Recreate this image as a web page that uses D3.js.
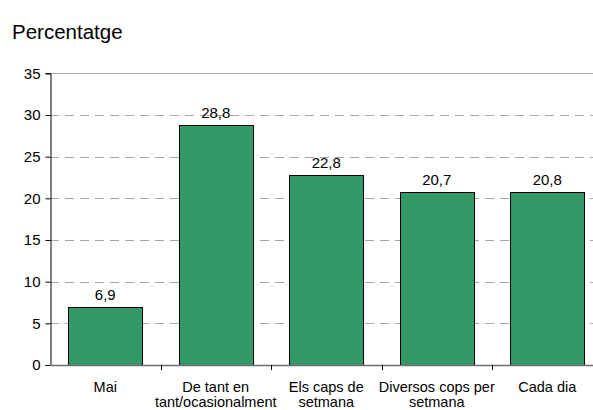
<!DOCTYPE html>
<html>
  <head>
    <script src="https://d3js.org/d3.v7.min.js"></script>
    <style>
      body { margin: 0; background: #fff; }
      text { font-family: "Liberation Sans", Arial, sans-serif; fill: #000; }
    </style>
  </head>
  <body>
    <script>
      // values
      var categories = [
        ["Mai"],
        ["De tant en", "tant/ocasionalment"],
        ["Els caps de", "setmana"],
        ["Diversos cops per", "setmana"],
        ["Cada dia"]
      ];
      var values = [6.9, 28.8, 22.8, 20.7, 20.8];
      var yTicks = [0, 5, 10, 15, 20, 25, 30, 35];

      var width = 593, height = 410;
      var plotLeft = 50, plotRight = 602.5, plotTop = 73.3, plotBottom = 365;

      var svg = d3.select("body").append("svg")
        .attr("width", width)
        .attr("height", height);

      var x = d3.scaleBand()
        .domain(d3.range(values.length))
        .range([plotLeft, plotRight])
        .paddingInner(0.33)
        .paddingOuter(0.165);
      var y = d3.scaleLinear()
        .domain([0, 35])
        .range([plotBottom, plotTop]);

      // title
      svg.append("text")
        .attr("x", 12)
        .attr("y", 39)
        .style("font-size", "20.5px")
        .text("Percentatge");

      // gridlines
      svg.append("g").selectAll("line")
        .data(yTicks.filter(function(d) { return d > 0; }))
        .enter().append("line")
        .attr("x1", plotLeft).attr("x2", width)
        .attr("y1", function(d) { return Math.round(y(d)) + 0.5; })
        .attr("y2", function(d) { return Math.round(y(d)) + 0.5; })
        .attr("stroke", "#a6a6a6")
        .attr("stroke-dasharray", function(d) { return d == 35 ? null : "9,6"; })
        .attr("stroke-width", 1);

      // bars
      svg.selectAll(".bar")
        .data(values)
        .enter().append("rect")
        .attr("class", "bar")
        .attr("x", function(d, i) { return Math.round(x(i)) + 0.5; })
        .attr("y", function(d) { return Math.round(y(d)) + 0.5; })
        .attr("width", x.bandwidth())
        .attr("height", function(d) { return Math.round(plotBottom) - Math.round(y(d)); })
        .attr("fill", "#339966")
        .attr("stroke", "#000")
        .attr("stroke-width", 1);

      // value labels
      svg.selectAll(".val")
        .data(values)
        .enter().append("text")
        .attr("class", "val")
        .attr("x", function(d, i) { return x(i) + x.bandwidth() / 2; })
        .attr("y", function(d) { return y(d) - 7; })
        .attr("text-anchor", "middle")
        .style("font-size", "15px")
        .text(function(d) { return String(d).replace(".", ","); });

      // y axis
      var yAxis = svg.append("g")
        .attr("transform", "translate(" + (plotLeft + 0.5) + ",0)")
        .call(d3.axisLeft(y).tickValues(yTicks).tickSize(5).tickPadding(5));
      yAxis.select(".domain").attr("stroke", "#000");
      yAxis.selectAll("text").style("font-size", "15px").attr("fill", "#000");

      // x axis
      svg.append("line")
        .attr("x1", plotLeft).attr("x2", width)
        .attr("y1", plotBottom + 0.5).attr("y2", plotBottom + 0.5)
        .attr("stroke", "#707070")
        .attr("stroke-width", 1.5);

      var step = x.step();
      svg.append("g").selectAll("line")
        .data(d3.range(1, values.length + 1))
        .enter().append("line")
        .attr("x1", function(i) { return Math.round(plotLeft + i * step) + 0.5; })
        .attr("x2", function(i) { return Math.round(plotLeft + i * step) + 0.5; })
        .attr("y1", plotBottom).attr("y2", plotBottom + 5)
        .attr("stroke", "#000");

      // category labels
      var cat = svg.selectAll(".cat")
        .data(categories)
        .enter().append("text")
        .attr("class", "cat")
        .attr("text-anchor", "middle")
        .style("font-size", "14.5px");
      cat.selectAll("tspan")
        .data(function(d, i) { return d.map(function(t) { return { t: t, i: i }; }); })
        .enter().append("tspan")
        .attr("x", function(d) { return x(d.i) + x.bandwidth() / 2; })
        .attr("y", function(d, j) { return 391.5 + j * 15.5; })
        .text(function(d) { return d.t; });
    </script>
  </body>
</html>
